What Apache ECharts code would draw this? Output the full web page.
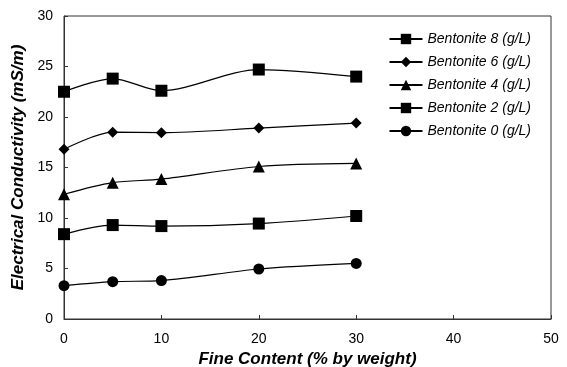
<!DOCTYPE html>
<html><head><meta charset="utf-8">
<script src="https://cdn.jsdelivr.net/npm/echarts@6/dist/echarts.min.js"></script>
<style>html,body{margin:0;padding:0;background:#fff}#c{width:567px;height:367px}</style>
</head><body><div id="c"></div>
<script>
const fineContent = [0, 5, 10, 20, 30];
const bentonite8 = [22.5, 23.8, 22.6, 24.7, 24.0];
const bentonite6 = [16.8, 18.5, 18.45, 18.9, 19.4];
const bentonite4 = [12.35, 13.5, 13.85, 15.1, 15.4];
const bentonite2 = [8.4, 9.3, 9.2, 9.45, 10.2];
const bentonite0 = [3.3, 3.7, 3.8, 4.95, 5.5];
const seriesNames = ['Bentonite 8 (g/L)', 'Bentonite 6 (g/L)', 'Bentonite 4 (g/L)', 'Bentonite 2 (g/L)', 'Bentonite 0 (g/L)'];
const seriesData = [bentonite8, bentonite6, bentonite4, bentonite2, bentonite0];
const symbols = ['rect', 'diamond', 'triangle', 'rect', 'circle'];
const symbolSizes = [12, 11, 12, 12, 11];

const chart = echarts.init(document.getElementById('c'));
const font = 'Liberation Sans, Arial, sans-serif';
chart.setOption({
  animation: false,
  backgroundColor: '#fff',
  grid: { left: 64, top: 16, right: 16, bottom: 48, containLabel: false, outerBoundsMode: 'none', show: true, borderColor: '#333', borderWidth: 1 },
  legend: {
    orient: 'vertical', right: 31, top: 27, itemGap: 9, itemWidth: 33, itemHeight: 13,
    textStyle: { fontFamily: font, fontStyle: 'italic', fontSize: 14, color: '#000' },
    data: seriesNames
  },
  xAxis: {
    type: 'value', min: 0, max: 50, interval: 10,
    name: 'Fine Content (% by weight)', nameLocation: 'middle', nameGap: 31,
    nameTextStyle: { fontFamily: font, fontStyle: 'italic', fontWeight: 'bold', fontSize: 17, color: '#000' },
    axisLine: { lineStyle: { color: '#333' } },
    axisTick: { inside: true, length: 4, lineStyle: { color: '#333' } },
    axisLabel: { fontFamily: font, fontSize: 14, color: '#000', margin: 13 },
    splitLine: { show: false }
  },
  yAxis: {
    type: 'value', min: 0, max: 30, interval: 5,
    name: 'Electrical Conductivity (mS/m)', nameLocation: 'middle', nameGap: 33,
    nameTextStyle: { fontFamily: font, fontStyle: 'italic', fontWeight: 'bold', fontSize: 17, color: '#000' },
    axisLine: { show: true, lineStyle: { color: '#333' } },
    axisTick: { show: true, inside: true, length: 4, lineStyle: { color: '#333' } },
    axisLabel: { fontFamily: font, fontSize: 14, color: '#000', margin: 11 },
    splitLine: { show: false }
  },
  series: seriesNames.map((n, i) => ({
    name: n, type: 'line', smooth: 0.3,
    symbol: symbols[i], symbolSize: symbolSizes[i],
    itemStyle: { color: '#000' },
    lineStyle: { color: '#000', width: 1.2 },
    data: fineContent.map((x, j) => [x, seriesData[i][j]])
  }))
});
</script></body></html>
